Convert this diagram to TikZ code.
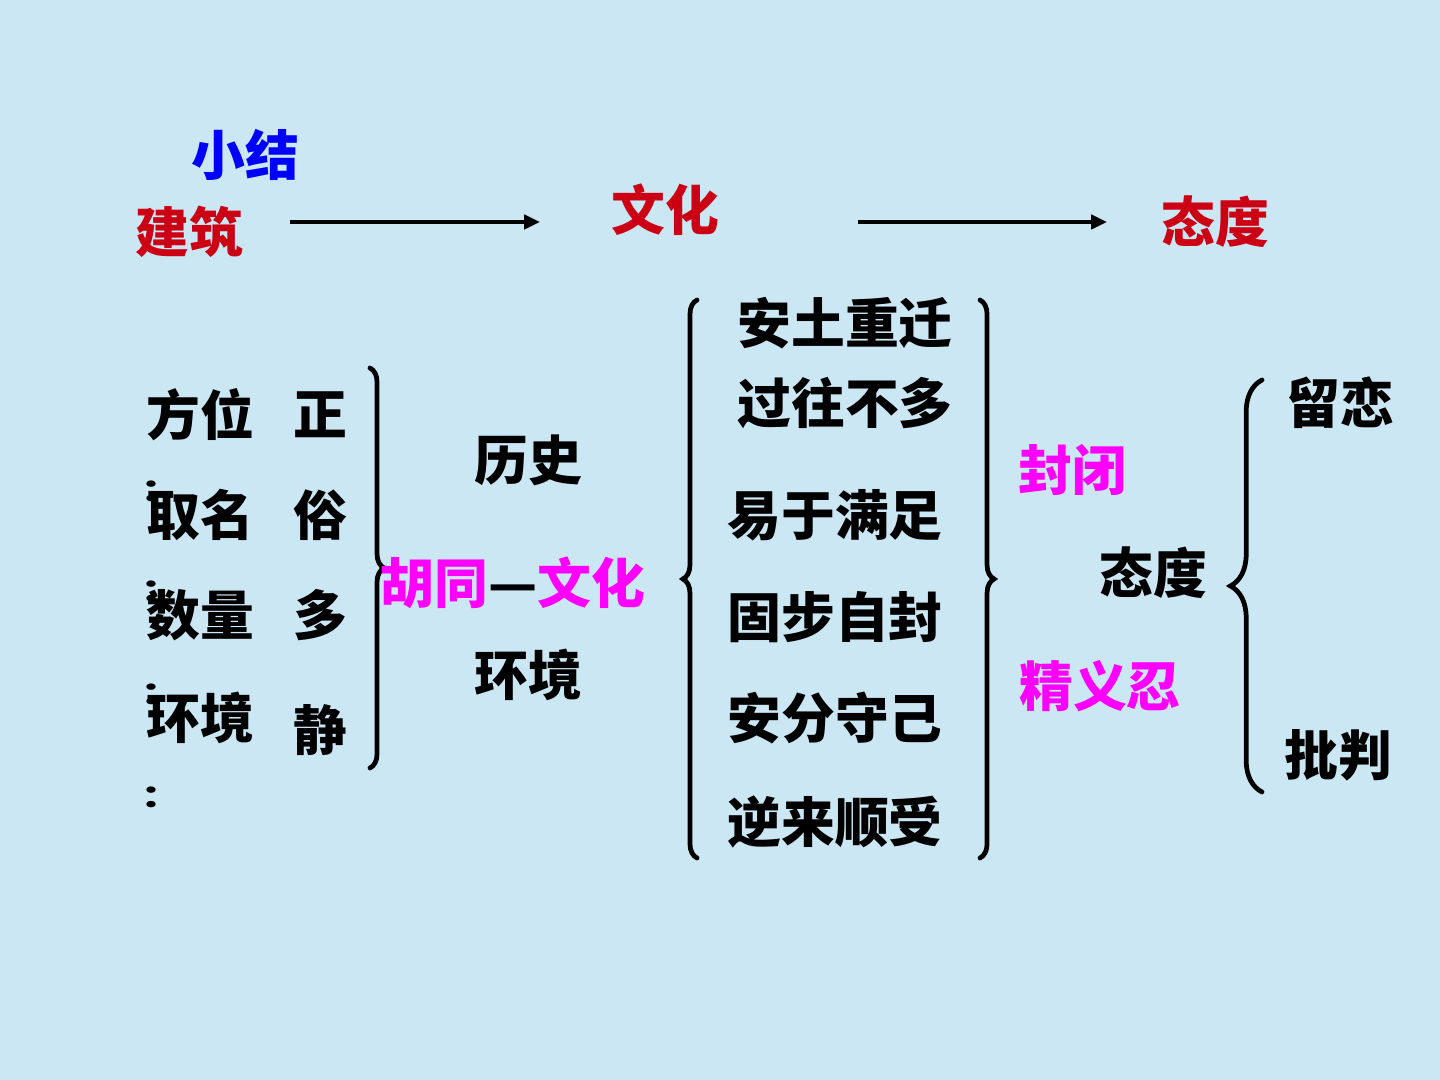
\documentclass[tikz,border=0pt]{standalone}
\usepackage{fontspec}
\newfontfamily\cjk{Noto Sans CJK SC}
\usetikzlibrary{arrows.meta,decorations.pathreplacing}
\definecolor{BgBlue}{RGB}{204,231,244}
\definecolor{TitleRed}{RGB}{204,0,20}
\definecolor{TitleBlue}{RGB}{0,0,255}
\definecolor{KeyPink}{RGB}{255,0,255}
\newcommand{\flatcolon}{\scalebox{1}[0.7]{：}}
\tikzset{
    word/.style={inner sep=0pt,font=\cjk\bfseries\fontsize{15.3}{18}\selectfont},
    colon/.style={inner sep=0pt,font=\cjk\bfseries\fontsize{12.5}{13}\selectfont},
    bracket/.style={line width=1.35pt,line cap=round,decorate,decoration={brace,amplitude=#1}}
}
\begin{document}
\begin{tikzpicture}[x=0.01cm,y=-0.01cm]
                \fill[BgBlue] (0,0) rectangle (1440,1080);
                \useasboundingbox (0,0) rectangle (1440,1080);

                \node[word,text=TitleBlue] (XiaoJie) at (245,155) {小结};
                \node[word,text=TitleRed] (JianZhu) at (189,232) {建筑};
                \node[word,text=TitleRed] (WenHua) at (665,210) {文化};
                \node[word,text=TitleRed] (TaiDu) at (1215,222) {态度};

                \coordinate (ArrowOneStart) at (290,222);
                \coordinate (ArrowOneEnd) at (540,222);
                \coordinate (ArrowTwoStart) at (858,222);
                \coordinate (ArrowTwoEnd) at (1107,222);
                \draw[line width=1.1pt,-{Triangle[length=4.5pt,width=4pt]}] (ArrowOneStart)--(ArrowOneEnd);
                \draw[line width=1.1pt,-{Triangle[length=4.5pt,width=4pt]}] (ArrowTwoStart)--(ArrowTwoEnd);

                \node[colon] (ColonOne) at (162,491) {\flatcolon};
                \node[colon] (ColonTwo) at (162,591) {\flatcolon};
                \node[colon] (ColonThree) at (162,694) {\flatcolon};
                \node[colon] (ColonFour) at (162,797) {\flatcolon};
                \node[word] (FangWei) at (200,415) {方位};
                \node[word] (QuMing) at (200,515) {取名};
                \node[word] (ShuLiang) at (200,615) {数量};
                \node[word] (HuanJing) at (200,718) {环境};
                \node[word] (Zheng) at (320,415) {正};
                \node[word] (Su) at (320,515) {俗};
                \node[word] (Duo) at (320,615) {多};
                \node[word] (Jing) at (320,730) {静};

                \coordinate (LeftTop) at (370,368);
                \coordinate (LeftBottom) at (370,768);
                \draw[bracket=4pt] (LeftTop)--(LeftBottom);

                \node[word] (LiShi) at (528,460) {历史};
                \node[word] (HuTong) at (513,583) {{\color{KeyPink}胡同}—{\color{KeyPink}文化}};
                \node[word] (HuanJingTwo) at (528,675) {环境};

                \coordinate (MidLeftTop) at (697,300);
                \coordinate (MidLeftBottom) at (697,858);
                \coordinate (MidRightTop) at (980,300);
                \coordinate (MidRightBottom) at (980,858);
                \draw[bracket=4pt] (MidLeftBottom)--(MidLeftTop);
                \draw[bracket=4pt] (MidRightTop)--(MidRightBottom);

                \node[word] (AnTu) at (845,323) {安土重迁};
                \node[word] (GuoWang) at (845,403) {过往不多};
                \node[word] (YiYu) at (835,515) {易于满足};
                \node[word] (GuBu) at (835,617) {固步自封};
                \node[word] (AnFen) at (835,718) {安分守己};
                \node[word] (NiLai) at (835,822) {逆来顺受};

                \node[word,text=KeyPink] (FengBi) at (1072,470) {封闭};
                \node[word] (TaiDuTwo) at (1153,573) {态度};
                \node[word,text=KeyPink] (JingYiRen) at (1100,686) {精义忍};

                \coordinate (RightTop) at (1262,380);
                \coordinate (RightBottom) at (1262,792);
                \draw[bracket=9pt] (RightBottom)--(RightTop);

                \node[word] (LiuLian) at (1340,403) {留恋};
                \node[word] (PiPan) at (1338,755) {批判};
\end{tikzpicture}
\end{document}
